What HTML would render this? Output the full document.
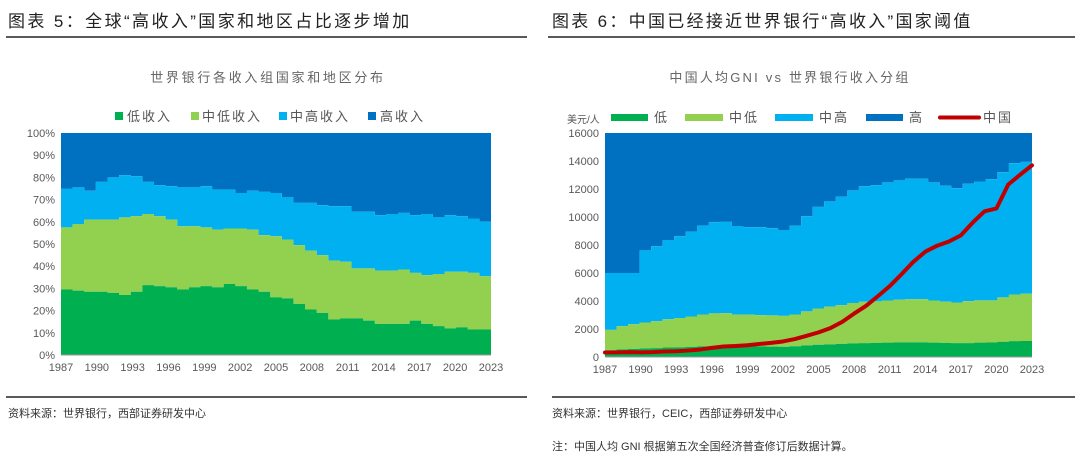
<!DOCTYPE html>
<html><head><meta charset="utf-8">
<style>
body{margin:0;background:#fff;width:1080px;height:466px;overflow:hidden;font-family:"Liberation Sans","Noto Sans CJK SC",sans-serif}
svg{position:absolute;left:0;top:0}
</style></head>
<body>
<svg width="1080" height="466">
<g id="static">
<text x="8" y="27" font-size="17" fill="#222" letter-spacing="2.4">图表 5：全球“高收入”国家和地区占比逐步增加</text>
<line x1="6" y1="37" x2="527" y2="37" stroke="#222" stroke-width="1.5"/>
<text x="552" y="27" font-size="17" fill="#222" letter-spacing="2.3">图表 6：中国已经接近世界银行“高收入”国家阈值</text>
<line x1="548" y1="37" x2="1075" y2="37" stroke="#222" stroke-width="1.5"/>
<text x="268" y="82" font-size="13" fill="#666" text-anchor="middle" letter-spacing="2.7">世界银行各收入组国家和地区分布</text>
<text x="790" y="82" font-size="13" fill="#666" text-anchor="middle" letter-spacing="2.2">中国人均GNI vs 世界银行收入分组</text>
<g font-size="13" fill="#555" letter-spacing="2">
<rect x="115" y="112" width="8" height="8" fill="#00b050"/><text x="127" y="121">低收入</text>
<rect x="191" y="112" width="8" height="8" fill="#92d050"/><text x="202" y="121">中低收入</text>
<rect x="279" y="112" width="8" height="8" fill="#00b0f0"/><text x="290" y="121">中高收入</text>
<rect x="368" y="112" width="8" height="8" fill="#0070c0"/><text x="380" y="121">高收入</text>
</g>
<g font-size="13" fill="#555" letter-spacing="2">
<text x="567" y="123" font-size="10" fill="#555" letter-spacing="0">美元/人</text>
<rect x="611" y="114" width="37" height="7" fill="#00b050"/><text x="654" y="122">低</text>
<rect x="685" y="114" width="38" height="7" fill="#92d050"/><text x="729" y="122">中低</text>
<rect x="775" y="114" width="38" height="7" fill="#00b0f0"/><text x="819" y="122">中高</text>
<rect x="866" y="114" width="37" height="7" fill="#0070c0"/><text x="909" y="122">高</text>
<line x1="940" y1="117.5" x2="979" y2="117.5" stroke="#c00000" stroke-width="4" stroke-linecap="round"/><text x="983" y="122">中国</text>
</g>
<line x1="6" y1="397" x2="527" y2="397" stroke="#222" stroke-width="1.5"/>
<line x1="552" y1="397" x2="1075" y2="397" stroke="#222" stroke-width="1.5"/>
<text x="8" y="417" font-size="11" fill="#333">资料来源：世界银行，西部证券研发中心</text>
<text x="552" y="417" font-size="11" fill="#333">资料来源：世界银行，CEIC，西部证券研发中心</text>
<text x="552" y="450" font-size="11" fill="#333">注：中国人均 GNI 根据第五次全国经济普查修订后数据计算。</text>
</g>
<g id="left"></g>
<g id="right"></g>
</svg>
<script>
const years=[];for(let y=1987;y<=2023;y++)years.push(y);
const xTickLabels=['1987','1990','1993','1996','1999','2002','2005','2008','2011','2014','2017','2020','2023'];
const leftYTicks=['0%','10%','20%','30%','40%','50%','60%','70%','80%','90%','100%'];
const rightYTicks=['0','2000','4000','6000','8000','10000','12000','14000','16000'];
// Left: shares (%) by income group
const lowShare=[29.5,29,28.5,28.5,28,27,28.5,31.5,31,30.5,29.5,30.5,31,30.5,32,31,29.5,28.5,26,25.5,23,20.5,19,16,16.5,16.5,15.5,14,14,14,15.5,14,13,12,12.5,11.5,11.5];
const lowerMiddleShare=[28,30,32.5,32.5,33,35,34,32,31.5,30.5,28.5,27.5,26.5,26,25,26,27,25.5,27.5,26.5,26.5,26.5,26,26.5,25.5,22.5,23.5,24,24,24.5,21.5,22,23.5,25.5,25,25.5,24];
const upperMiddleShare=[17.5,16.5,13,17,19,19,18,14.5,14,15,17.5,17.5,18.5,18,17.5,16,17.5,19.5,19.5,19,19,21.5,22.5,24.5,25,25.5,25.5,25,25.5,25.5,26,27.5,25.5,25.5,25,24.5,24.5];
// Right: World Bank GNI thresholds (USD) and China GNI per capita
const lowThreshold=[480,545,580,610,635,675,695,725,765,785,785,760,755,755,745,735,765,825,875,905,935,975,995,1005,1025,1035,1045,1045,1025,1005,995,995,1025,1035,1085,1135,1145];
const lowerMiddleThreshold=[1940,2200,2335,2465,2555,2695,2785,2895,3035,3115,3125,3030,3030,2995,2975,2935,3035,3255,3465,3595,3705,3855,3945,3975,4035,4085,4125,4125,4035,3955,3895,3995,4045,4045,4255,4465,4515];
const upperMiddleThreshold=[6000,6000,6000,7620,7910,8355,8625,8955,9385,9635,9655,9360,9265,9265,9205,9075,9385,10065,10725,11115,11455,11905,12195,12275,12475,12615,12745,12735,12475,12235,12055,12375,12535,12695,13205,13845,13935];
const chinaGNI=[320,330,350,330,350,390,410,460,530,650,750,790,840,930,1010,1110,1280,1510,1760,2060,2510,3100,3650,4340,5060,5910,6800,7520,7950,8250,8690,9600,10410,10610,12320,13020,13690];

const NS='http://www.w3.org/2000/svg';
function mk(tag,attrs,parent){const e=document.createElementNS(NS,tag);for(const k in attrs)e.setAttribute(k,attrs[k]);parent.appendChild(e);return e;}
function stepPath(ys0,ys1,x0,bw){
  let d='';const n=ys1.length;
  for(let i=0;i<n;i++){const xa=x0+i*bw,xb=xa+bw;d+=(i?'L':'M')+xa+','+ys1[i]+'L'+xb+','+ys1[i];}
  for(let i=n-1;i>=0;i--){const xa=x0+i*bw,xb=xa+bw;d+='L'+xb+','+ys0[i]+'L'+xa+','+ys0[i];}
  return d+'Z';
}
function drawAxes(g,X0,X1,Y0,Y1,ticks,name){
  ticks.forEach((t,i)=>{const y=Y1-(Y1-Y0)*i/(ticks.length-1);
    const tx=mk('text',{x:X0-6,y:y+4,'font-size':11,fill:'#595959','text-anchor':'end'},g);tx.textContent=t;
    
    });
  xTickLabels.forEach(l=>{const i=years.indexOf(+l);const x=X0+(X1-X0)*i/(years.length-1);
    const tx=mk('text',{x:x,y:Y1+16,'font-size':11,fill:'#595959','text-anchor':'middle'},g);tx.textContent=l;
    
    });
  const ax=mk('line',{x1:X0,y1:Y1,x2:X1,y2:Y1,stroke:'#999','stroke-width':1},g);
  
  
}
(function(){
  const g=document.getElementById('left');const X0=61,X1=491,Y0=133,Y1=355,bw=(X1-X0)/years.length;
  const sy=v=>Y1-(Y1-Y0)*v/100;
  const c1=lowShare,c2=lowShare.map((v,i)=>v+lowerMiddleShare[i]),c3=c2.map((v,i)=>v+upperMiddleShare[i]);
  const zero=years.map(()=>0),full=years.map(()=>100);
  const layers=[[c3,full,'#0070c0','area-high'],[c2,c3,'#00b0f0','area-upper-middle'],[c1,c2,'#92d050','area-lower-middle'],[zero,c1,'#00b050','area-low']];
  layers.forEach(L=>{const p=mk('path',{d:stepPath(L[0].map(sy),L[1].map(sy),X0,bw),fill:L[2]},g);
    
    });
  drawAxes(g,X0,X1,Y0,Y1,leftYTicks,'left');
})();
(function(){
  const g=document.getElementById('right');const X0=605,X1=1032,Y0=133,Y1=357,bw=(X1-X0)/years.length;
  const sy=v=>Y1-(Y1-Y0)*v/16000;
  const zero=years.map(()=>0),full=years.map(()=>16000);
  const layers=[[upperMiddleThreshold,full,'#0070c0','area-high'],[lowerMiddleThreshold,upperMiddleThreshold,'#00b0f0','area-upper-middle'],[lowThreshold,lowerMiddleThreshold,'#92d050','area-lower-middle'],[zero,lowThreshold,'#00b050','area-low']];
  layers.forEach(L=>{const p=mk('path',{d:stepPath(L[0].map(sy),L[1].map(sy),X0,bw),fill:L[2]},g);
    
    });
  drawAxes(g,X0,X1,Y0,Y1,rightYTicks,'right');
  const pts=chinaGNI.map((v,i)=>(X0+(X1-X0)*i/(years.length-1))+','+sy(v)).join(' ');
  const pl=mk('polyline',{points:pts,fill:'none',stroke:'#c00000','stroke-width':4,'stroke-linejoin':'round','stroke-linecap':'round'},g);
  
  
})();
</script>
</body></html>
